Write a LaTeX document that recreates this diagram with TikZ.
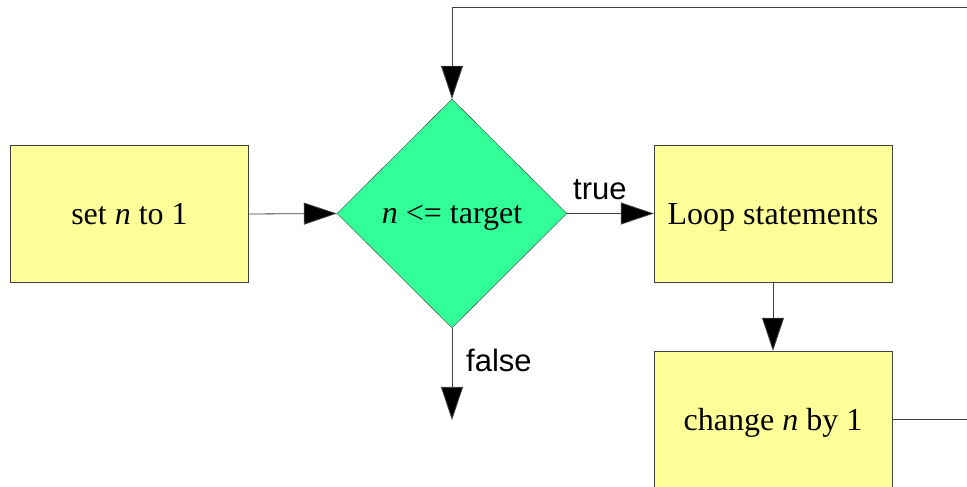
\documentclass[tikz,border=0pt]{standalone}
\usepackage{fontspec}
\setmainfont{Liberation Serif}
\newfontfamily\branchfont{Liberation Sans}
\usetikzlibrary{shapes.geometric, arrows.meta}

\definecolor{boxyellow}{RGB}{255,255,153}
\definecolor{testgreen}{RGB}{51,255,153}

\tikzset{
  flowbox/.style={draw=black!75, fill=boxyellow, minimum width=238pt, minimum height=137pt,
    inner sep=0pt, text height=29pt, text depth=7pt, font=\fontsize{32}{38}\selectfont},
  testbox/.style={diamond, aspect=1, draw=black!75, fill=testgreen, minimum width=230pt,
    minimum height=229pt, inner sep=0pt, text height=28pt, text depth=8pt,
    font=\fontsize{32}{38}\selectfont},
  flowarrow/.style={draw=black!75, line width=0.8pt, -{Triangle[length=33pt,width=22pt,fill=black]}},
  branchlabel/.style={anchor=base west, inner sep=0pt, font=\branchfont\fontsize{31}{37}\selectfont}
}

\begin{document}
\begin{tikzpicture}[x=1pt, y=1pt]
  \useasboundingbox (0,0) rectangle (967,487);

  % steps of the loop
  \node[flowbox] (setn) at (129.5,273) {set \textit{n} to 1};
  \node[testbox] (test) at (452,273.5) {\textit{n} <= target};
  \node[flowbox] (body) at (773,273.5) {Loop statements};
  \node[flowbox] (change) at (773,67.5) {change \textit{n} by 1};

  \coordinate (exit) at (452,67);
  \coordinate (corner) at (995,480);

  % connectors
  \draw[flowarrow] (setn.east) -- (test.west);
  \draw[flowarrow] (test.east) -- (body.west);
  \draw[flowarrow] (test.south) -- (exit);
  \draw[flowarrow] (body.south) -- (change.north);
  \draw[flowarrow] (change.east) -| (corner) -| (test.north);

  \node[branchlabel] (truelbl) at (573,287) {true};
  \node[branchlabel] (falselbl) at (466,115) {false};
\end{tikzpicture}
\end{document}
